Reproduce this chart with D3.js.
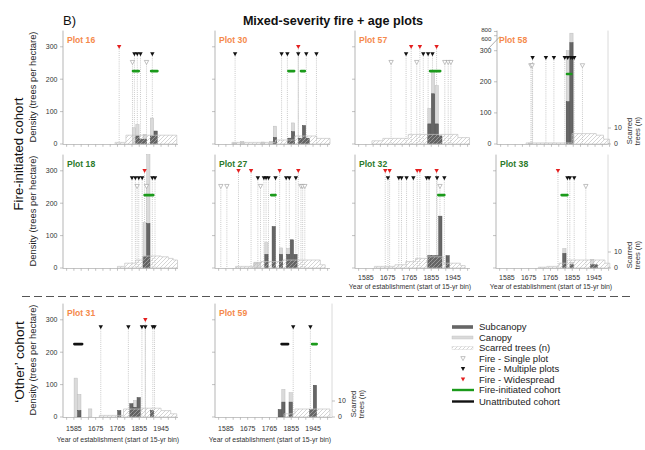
<!DOCTYPE html>
<html><head><meta charset="utf-8">
<script src="https://cdn.jsdelivr.net/npm/d3@7"></script>
<style>body{margin:0;background:#fff} svg{display:block} text{font-family:"Liberation Sans",Arial,sans-serif}</style>
</head><body><svg id="c" width="645" height="450"></svg>
<script>
// ---------------- DATA ----------------
const plotNames = ["Plot 16","Plot 30","Plot 57","Plot 58","Plot 18","Plot 27","Plot 32","Plot 38","Plot 31","Plot 59"];
const plotType  = ["mixed","mixed","mixed","mixed","fire","fire","fire","fire","mixed","mixed"];
const xTickYears = [1555,1585,1615,1645,1675,1705,1735,1765,1795,1825,1855,1885,1915,1945,1975,2005];
const xTickLabels = ["1585","1675","1765","1855","1945"];
const yTicks = [0,100,200,300];
const yTicksPlot58 = [0,100,200,300,600,800];
const scarTicks = [0,10];

// stacked bars: [bin start year, trees/ha]
const subcanopy = [
 [[1840,25],[1855,15],[1870,15],[1900,25],[1915,40]],
 [[1780,20],[1840,18],[1855,38],[1885,18],[1900,57],[1915,18]],
 [[1840,62],[1855,155],[1870,62],[1885,25]],
 [[1825,136],[1840,460]],
 [[1870,35],[1885,137]],
 [[1745,42],[1775,128],[1805,42],[1835,42],[1850,87],[1865,42]],
 [[1840,38],[1855,38],[1870,38],[1885,160],[1915,38]],
 [[1815,45],[1845,10],[1930,10],[1945,10]],
 [[1600,20],[1765,20],[1815,41],[1830,30],[1845,60],[1900,20]],
 [[1800,23],[1815,46],[1845,46],[1930,23],[1945,98]]
];
const canopy = [
 [[1825,50],[1840,35],[1870,15],[1900,55]],
 [[1615,3],[1645,8],[1730,6],[1765,8],[1780,35],[1855,27]],
 [[1840,48],[1855,68],[1870,118]],
 [[1670,3],[1825,164],[1840,260]],
 [[1870,105],[1885,215]],
 [[1700,18],[1715,18],[1745,36],[1805,20],[1835,18]],
 [],
 [[1815,15],[1845,8],[1930,17]],
 [[1585,120],[1600,50],[1645,25],[1830,21]],
 [[1815,39],[1845,29]]
];
// scarred trees (n): step starts [year, count]
const scarredTrees = [
 [[1755,1],[1800,5.5],[2010,0]],
 [[1610,1],[1790,2.5],[1870,5],[1960,3.5],[2015,0]],
 [[1610,2],[1655,3.5],[1760,6],[1965,4],[2013,0]],
 [[1660,0.7],[1850,6.5],[1950,5.5],[1980,3],[2005,0]],
 [[1765,1],[1795,3],[1840,5],[1870,7.5],[1945,7],[1975,6],[1995,5],[2013,0]],
 [[1625,1],[1700,3],[1730,4],[1820,5],[1975,2],[1995,0]],
 [[1620,1],[1705,2],[1750,4],[1790,6],[1840,7],[1905,3],[1975,1.5],[1995,0]],
 [[1715,0.5],[1750,1],[1800,3],[1835,5],[1990,3],[2010,0]],
 [[1690,1],[1790,5],[1870,5.5],[1945,4],[1985,2],[2010,0]],
 [[1825,2],[1870,5],[2015,0]]
];
const fireSingle = [
 [1827,1885],[],[1689,1795,1911,1925,1936],[1680,1685,1893],[1846,1885],
 [1564,1589,1728,1895,1902,1911],[1891],[1911],[],[]
];
const fireMultiple = [
 [1835,1847,1860,1909],
 [1623,1815,1839,1884,1917,1959],
 [1751,1822,1842,1860],
 [1687,1742,1775,1820,1832,1845,1852,1859],
 [1825,1839,1853,1867,1909,1920],
 [1717,1742,1751,1761,1790,1834,1847,1874],
 [1676,1721,1732,1753,1781,1836,1846,1879,1909],
 [1835,1845,1863],
 [1696,1810,1866,1880,1911,1918],
 [1863,1934]
];
const fireWidespread = [
 [1772],[1884],[1772,1808,1877],[],[1877],[1637,1689,1807,1884],[1665,1683,1797,1808,1877],[1796],[1880],[]
];
const fireCohorts = [
 [[1829,1853],[1904,1930]],[[1843,1867],[1895,1911]],[[1850,1892]],[[1829,1847]],[[1877,1913]],
 [[1772,1790]],[[1884,1909]],[[1811,1835]],[],[[1941,1960]]
];
const otherCohorts = [[],[],[],[],[],[],[],[],[[1587,1619]],[[1815,1842]]];
const legendLabels = ["Subcanopy","Canopy","Scarred trees (n)","Fire - Single plot","Fire - Multiple plots","Fire - Widespread","Fire-initiated cohort","Unattributed cohort"];

// ---------------- LAYOUT ----------------
const panelX    = [63,215,355,497,63,215,355,496,63,215];
const panelBase = [144,144,144,144,268,268,268,268,417,417];
const showYLab  = [true,false,false,true,true,false,false,false,true,false];
const showXLab  = [false,false,false,false,false,false,true,true,true,true];
const rightAxisX= [null,null,null,608,null,null,null,608,null,332];
const levels = {widespread:300, multiple:277, single:252, cohort:225};
const C = {sub:"#666", subS:"#4a4a4a", can:"#dadada", canS:"#bdbdbd", axis:"#b5b5b5", txt:"#333",
  orange:"#f5894b", green:"#2b7a2b", cohort:"#1b9a1b", red:"#e41e1e"};

const svg = d3.select("#c");
const defs = svg.append("defs");
const pat = defs.append("pattern").attr("id","hatch").attr("patternUnits","userSpaceOnUse").attr("width",4).attr("height",4);
pat.append("path").attr("d","M-1,1 l2,-2 M0,4 l4,-4 M3,5 l2,-2").attr("stroke","#b8b8b8").attr("stroke-width",0.6);

function tri(x,y){return `M${x-2.2},${y-1.9}L${x+2.2},${y-1.9}L${x},${y+2.1}Z`;}

plotNames.forEach((name,i)=>{
  const x0 = panelX[i], base = panelBase[i];
  const row3 = base > 400;
  const x = d3.scaleLinear().domain([1540,2015]).range([x0,x0+115]);
  const y = i===3
    ? d3.scaleLinear().domain([0,300,600,800]).range([base,base-93.3,base-108.3,base-112.5]).clamp(true)
    : d3.scaleLinear().domain([0,350]).range([base,base-113.4]).clamp(true);
  const ys = v => base - v*1.6; // scarred trees scale
  const g = svg.append("g");

  // dotted guide lines
  const fires = [...fireSingle[i].map(v=>[v,"single"]),...fireMultiple[i].map(v=>[v,"multiple"]),...fireWidespread[i].map(v=>[v,"widespread"])];
  g.selectAll("line.dl").data(fires).join("line")
    .attr("x1",d=>x(d[0])).attr("x2",d=>x(d[0]))
    .attr("y1",d=>y(levels[d[1]])+2).attr("y2",base)
    .attr("stroke","#9c9c9c").attr("stroke-width",0.6).attr("stroke-dasharray","0.9,1.2");

  // bars: canopy stacked on subcanopy
  const subMap = new Map(subcanopy[i]), canMap = new Map(canopy[i]);
  const bins = Array.from(new Set([...subMap.keys(),...canMap.keys()])).sort((a,b)=>a-b);
  g.selectAll("rect.can").data(bins.filter(b=>canMap.has(b))).join("rect")
    .attr("x",b=>x(b)+0.2).attr("width",b=>x(b+15)-x(b)-0.4)
    .attr("y",b=>y((subMap.get(b)||0)+canMap.get(b)))
    .attr("height",b=>base-y((subMap.get(b)||0)+canMap.get(b)))
    .attr("fill",C.can).attr("stroke",C.canS).attr("stroke-width",0.5);
  g.selectAll("rect.sub").data(bins.filter(b=>subMap.has(b))).join("rect")
    .attr("x",b=>x(b)+0.2).attr("width",b=>x(b+15)-x(b)-0.4)
    .attr("y",b=>y(subMap.get(b))).attr("height",b=>base-y(subMap.get(b)))
    .attr("fill",C.sub).attr("stroke",C.subS).attr("stroke-width",0.5);

  // scarred trees hatched step area
  const area = d3.area().x(d=>x(d[0])).y0(base).y1(d=>ys(d[1])).curve(d3.curveStepAfter);
  g.append("path").datum(scarredTrees[i]).attr("d",area)
    .attr("fill","url(#hatch)").attr("stroke","#c4c4c4").attr("stroke-width",0.7);

  // axes
  const xEnd = rightAxisX[i] ? rightAxisX[i] : x0+115;
  g.append("line").attr("x1",x0).attr("x2",xEnd).attr("y1",base+0.5).attr("y2",base+0.5).attr("stroke",C.axis).attr("stroke-width",0.8);
  g.selectAll("line.xt").data(xTickYears).join("line")
    .attr("x1",d=>x(d)).attr("x2",d=>x(d)).attr("y1",base+0.5).attr("y2",base+2.8).attr("stroke","#999").attr("stroke-width",0.6);
  g.append("line").attr("x1",x0).attr("x2",x0).attr("y1",base+0.5).attr("y2",base-113.4).attr("stroke",C.axis).attr("stroke-width",1);
  const yt = i===3 ? yTicksPlot58 : yTicks;
  g.selectAll("line.yt").data(yt).join("line")
    .attr("x1",x0-3).attr("x2",x0).attr("y1",d=>y(d)).attr("y2",d=>y(d)).attr("stroke","#999").attr("stroke-width",0.6);
  if(showYLab[i]){
    g.selectAll("text.yl").data(yt).join("text")
      .attr("x",x0-5.5)
      .attr("y",d=> d===800 ? y(d)+0.8 : (d===600 ? y(d)+5.2 : y(d)+2.4))
      .attr("text-anchor","end")
      .attr("font-size",d=>d>300?6.2:7).attr("fill",C.txt).text(d=>d);
  }
  if(showXLab[i]){
    g.selectAll("text.xl").data(xTickLabels).join("text")
      .attr("x",d=>x(+d)).attr("y",base+(row3?14.3:12.3)).attr("text-anchor","middle")
      .attr("font-size",7).attr("fill",C.txt).text(d=>d);
    g.append("text").attr("x",x0+55).attr("y",base+(row3?25:21)).attr("text-anchor","middle")
      .attr("font-size",6.9).attr("fill",C.txt).text("Year of establishment (start of 15-yr bin)");
  }
  if(rightAxisX[i]){
    const rx = rightAxisX[i];
    g.append("line").attr("x1",rx).attr("x2",rx).attr("y1",base+0.5).attr("y2",base-113.4).attr("stroke","#d0d0d0").attr("stroke-width",0.8);
    g.selectAll("line.rt").data(scarTicks).join("line")
      .attr("x1",rx).attr("x2",rx+3).attr("y1",d=>ys(d)).attr("y2",d=>ys(d)).attr("stroke","#999").attr("stroke-width",0.6);
    g.selectAll("text.rl").data(scarTicks).join("text")
      .attr("x",rx+6).attr("y",d=>ys(d)+2.4).attr("font-size",7).attr("fill",C.txt).text(d=>d);
    const lab = g.append("text").attr("transform",`translate(${rx+24},${base-13}) rotate(-90)`)
      .attr("text-anchor","middle").attr("font-size",7.6).attr("fill",C.txt);
    lab.append("tspan").attr("x",0).attr("dy",0).text("Scarred");
    lab.append("tspan").attr("x",0).attr("dy",8).text("trees (n)");
  }
  if(i===3){
    g.append("line").attr("x1",x0-10).attr("y1",base-94).attr("x2",x0+3).attr("y2",base-107.5).attr("stroke","#999").attr("stroke-width",0.8);
  }

  // cohorts
  g.selectAll("line.fc").data(fireCohorts[i]).join("line")
    .attr("x1",d=>x(d[0])).attr("x2",d=>x(d[1])).attr("y1",y(levels.cohort)).attr("y2",y(levels.cohort))
    .attr("stroke",C.cohort).attr("stroke-width",2.6).attr("stroke-linecap","round");
  g.selectAll("line.oc").data(otherCohorts[i]).join("line")
    .attr("x1",d=>x(d[0])).attr("x2",d=>x(d[1])).attr("y1",y(levels.cohort)).attr("y2",y(levels.cohort))
    .attr("stroke","#111").attr("stroke-width",2.6).attr("stroke-linecap","round");

  // fire markers
  g.selectAll("path.fm").data(fires).join("path")
    .attr("d",d=>tri(x(d[0]),y(levels[d[1]])))
    .attr("fill",d=>d[1]==="widespread"?C.red:(d[1]==="multiple"?"#111":"#fff"))
    .attr("stroke",d=>d[1]==="single"?"#999":"none").attr("stroke-width",0.6);

  // plot label
  g.append("text").attr("x",i===3?x0+2:x0+4).attr("y",base-101.5)
    .attr("font-size",8.6).attr("font-weight","bold")
    .attr("fill",plotType[i]==="fire"?C.green:C.orange).text(name);
});

// Density labels
[144,268,417].forEach(b=>{
  svg.append("text").attr("transform",`translate(36,${b-57}) rotate(-90)`).attr("text-anchor","middle")
    .attr("font-size",9.4).attr("fill","#222").text("Density (trees per hectare)");
});
svg.append("text").attr("transform","translate(23,154) rotate(-90)").attr("text-anchor","middle")
  .attr("font-size",13.2).attr("fill","#111").text("Fire-initiated cohort");
svg.append("text").attr("transform","translate(24,362) rotate(-90)").attr("text-anchor","middle")
  .attr("font-size",13.6).attr("fill","#111").text("\u2018Other\u2019 cohort");

// title
svg.append("text").attr("x",63).attr("y",25).attr("font-size",13).attr("fill","#111").text("B)");
svg.append("text").attr("x",333).attr("y",24.5).attr("text-anchor","middle").attr("font-size",12.6)
  .attr("font-weight","bold").attr("fill","#111").text("Mixed-severity fire + age plots");

// separator
svg.append("line").attr("x1",22).attr("x2",630).attr("y1",296.5).attr("y2",296.5)
  .attr("stroke","#555").attr("stroke-width",1).attr("stroke-dasharray","8,4");

// legend
const L = svg.append("g").attr("font-size",9.5).attr("fill","#222");
const ly = [327,337.5,348,358.5,369,379.5,390,401.5];
L.append("rect").attr("x",452).attr("y",ly[0]-1.8).attr("width",21).attr("height",3.6).attr("fill",C.sub);
L.append("rect").attr("x",452).attr("y",ly[1]-1.5).attr("width",21).attr("height",3).attr("fill",C.can).attr("stroke",C.canS).attr("stroke-width",0.4);
L.append("rect").attr("x",452).attr("y",ly[2]-1.5).attr("width",21).attr("height",3).attr("fill","url(#hatch)").attr("stroke","#ccc").attr("stroke-width",0.4);
L.append("path").attr("d",tri(463,ly[3])).attr("fill","#fff").attr("stroke","#999").attr("stroke-width",0.6);
L.append("path").attr("d",tri(463,ly[4])).attr("fill","#111");
L.append("path").attr("d",tri(463,ly[5])).attr("fill",C.red);
L.append("line").attr("x1",452).attr("x2",474).attr("y1",ly[6]).attr("y2",ly[6]).attr("stroke",C.cohort).attr("stroke-width",2.4);
L.append("line").attr("x1",452).attr("x2",474).attr("y1",ly[7]).attr("y2",ly[7]).attr("stroke","#111").attr("stroke-width",2.4);
L.selectAll("text").data(legendLabels).join("text").attr("x",479).attr("y",(d,k)=>ly[k]+3.3).text(d=>d);
</script></body></html>
